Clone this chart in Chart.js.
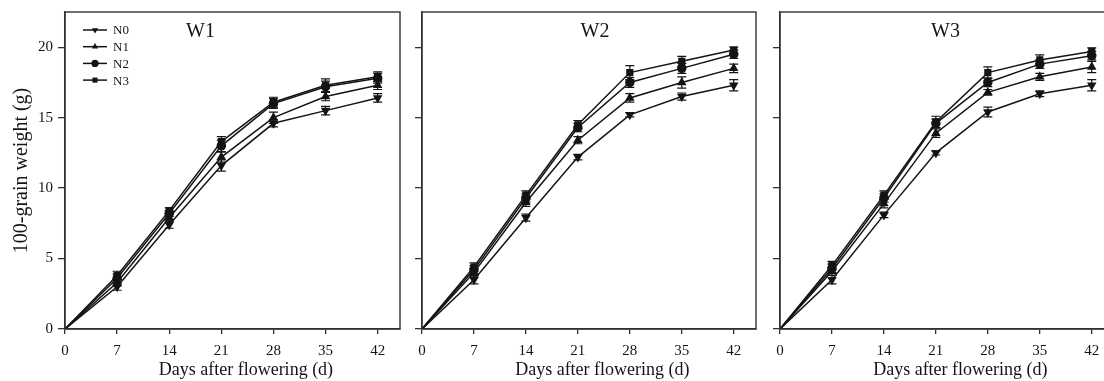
<!DOCTYPE html>
<html>
<head>
<meta charset="utf-8">
<script src="https://cdn.jsdelivr.net/npm/chart.js@4.4.0/dist/chart.umd.min.js"></script>
<style>
html, body { margin: 0; padding: 0; background: #fff; overflow: hidden; }
body { position: relative; width: 1104px; height: 381px; }
.panel { position: absolute; top: 0; height: 381px; }
</style>
</head>
<body>
<div class="panel" style="left:0;width:410px"><canvas id="c1"></canvas></div>
<div class="panel" style="left:410px;width:356px"><canvas id="c2"></canvas></div>
<div class="panel" style="left:766px;width:356px"><canvas id="c3"></canvas></div>
<script>
const days = [0, 7, 14, 21, 28, 35, 42];
const xTicks = [0, 7, 14, 21, 28, 35, 42];
const yTicks = [0, 5, 10, 15, 20];
const seriesNames = ['N0', 'N1', 'N2', 'N3'];

// W1
const w1N0 = [0, 3.0, 7.4, 11.6, 14.6, 15.5, 16.4];
const w1N1 = [0, 3.3, 7.9, 12.2, 15.0, 16.5, 17.3];
const w1N2 = [0, 3.6, 8.2, 13.0, 16.0, 17.2, 17.8];
const w1N3 = [0, 3.8, 8.4, 13.3, 16.1, 17.3, 17.9];
const w1N0Err = [0, 0.25, 0.25, 0.4, 0.25, 0.3, 0.3];
const w1N1Err = [0, 0.25, 0.25, 0.35, 0.4, 0.3, 0.3];
const w1N2Err = [0, 0.3, 0.2, 0.4, 0.35, 0.4, 0.35];
const w1N3Err = [0, 0.3, 0.2, 0.35, 0.35, 0.45, 0.35];

// W2
const w2N0 = [0, 3.5, 7.9, 12.2, 15.2, 16.5, 17.3];
const w2N1 = [0, 4.0, 9.0, 13.4, 16.4, 17.5, 18.5];
const w2N2 = [0, 4.2, 9.3, 14.3, 17.5, 18.5, 19.5];
const w2N3 = [0, 4.4, 9.5, 14.5, 18.2, 19.0, 19.8];
const w2N0Err = [0, 0.3, 0.25, 0.2, 0.15, 0.25, 0.4];
const w2N1Err = [0, 0.3, 0.3, 0.25, 0.3, 0.4, 0.3];
const w2N2Err = [0, 0.3, 0.3, 0.3, 0.35, 0.35, 0.3];
const w2N3Err = [0, 0.3, 0.3, 0.3, 0.5, 0.35, 0.2];

// W3
const w3N0 = [0, 3.5, 8.1, 12.5, 15.4, 16.7, 17.3];
const w3N1 = [0, 4.1, 8.9, 13.9, 16.8, 17.9, 18.6];
const w3N2 = [0, 4.3, 9.3, 14.6, 17.5, 18.8, 19.4];
const w3N3 = [0, 4.5, 9.5, 14.7, 18.2, 19.1, 19.7];
const w3N0Err = [0, 0.3, 0.2, 0.15, 0.35, 0.2, 0.4];
const w3N1Err = [0, 0.3, 0.3, 0.3, 0.2, 0.25, 0.4];
const w3N2Err = [0, 0.3, 0.3, 0.3, 0.3, 0.3, 0.3];
const w3N3Err = [0, 0.3, 0.3, 0.4, 0.4, 0.35, 0.25];

const pointStyles = ['triangle', 'triangle', 'circle', 'rect'];
const rotations = [180, 0, 0, 0];
const ink = '#141414';
const serif = "'Liberation Serif', 'Times New Roman', serif";

function makeSets(vals, errs) {
    return vals.map((v, i) => ({
        label: seriesNames[i],
        data: v.map((y, j) => ({ x: days[j], y: y })),
        errors: errs[i],
        borderColor: ink,
        backgroundColor: ink,
        borderWidth: 1.5,
        pointStyle: pointStyles[i],
        rotation: rotations[i],
        pointRadius: [0, 4, 4, 4, 4, 4, 4],
        tension: 0
    }));
}

const decor = {
    id: 'decor',
    afterDatasetsDraw(chart, args, opts) {
        const ctx = chart.ctx;
        const a = chart.chartArea;
        const x = chart.scales.x, y = chart.scales.y;
        ctx.save();
        ctx.strokeStyle = ink;
        ctx.lineWidth = 1.2;
        chart.data.datasets.forEach(ds => {
            ds.errors.forEach((e, j) => {
                if (!e) return;
                const px = x.getPixelForValue(days[j]);
                const v = ds.data[j].y;
                const y1 = y.getPixelForValue(v - e), y2 = y.getPixelForValue(v + e);
                ctx.beginPath();
                ctx.moveTo(px, y1); ctx.lineTo(px, y2);
                ctx.moveTo(px - 4.5, y1); ctx.lineTo(px + 4.5, y1);
                ctx.moveTo(px - 4.5, y2); ctx.lineTo(px + 4.5, y2);
                ctx.stroke();
            });
        });
        // frame
        ctx.strokeStyle = '#333';
        ctx.lineWidth = 1.4;
        ctx.strokeRect(a.left, a.top, a.right - a.left, a.bottom - a.top);
        // panel label
        ctx.fillStyle = ink;
        ctx.font = '20px ' + serif;
        ctx.textAlign = 'center';
        ctx.textBaseline = 'middle';
        ctx.fillText(opts.label, x.getPixelForValue(opts.labelAt), a.top + 20);
        // x title
        ctx.font = '18px ' + serif;
        ctx.fillText('Days after flowering (d)', x.getPixelForValue(24.3), chart.height - 11);
        // legend
        if (opts.legend) {
            ctx.font = '13px ' + serif;
            ctx.textAlign = 'left';
            chart.data.datasets.forEach((ds, i) => {
                const ly = a.top + 18 + i * 16.7;
                const lx = a.left + 18;
                ctx.strokeStyle = ink;
                ctx.lineWidth = 1.5;
                ctx.beginPath();
                ctx.moveTo(lx, ly); ctx.lineTo(lx + 24, ly);
                ctx.stroke();
                ctx.fillStyle = ink;
                Chart.helpers.drawPoint(ctx, { pointStyle: ds.pointStyle, rotation: ds.rotation, radius: 3.6 }, lx + 12, ly);
                ctx.fillText(ds.label, lx + 30, ly + 1);
            });
        }
        ctx.restore();
    }
};

function makeChart(id, sets, yWidth, padRight, opts, showY) {
    new Chart(document.getElementById(id), {
        type: 'line',
        data: { datasets: sets },
        plugins: [decor],
        options: {
            responsive: true,
            maintainAspectRatio: false,
            animation: false,
            layout: { padding: { left: 0, top: 12, right: padRight, bottom: 0 } },
            plugins: {
                legend: { display: false },
                tooltip: { enabled: false },
                decor: opts
            },
            scales: {
                x: {
                    type: 'linear',
                    min: 0,
                    max: 45,
                    afterBuildTicks: s => { s.ticks = xTicks.map(v => ({ value: v })); },
                    afterFit: s => { s.height = 52; s.paddingLeft = 0; s.paddingRight = 0; },
                    grid: { drawOnChartArea: false, drawTicks: true, tickLength: 5, color: '#333', lineWidth: 1.3 },
                    border: { display: true, color: '#333', width: 1.4 },
                    ticks: { color: ink, font: { family: serif, size: 15 }, padding: 8, maxRotation: 0 }
                },
                y: {
                    min: 0,
                    max: 22.5,
                    afterBuildTicks: s => { s.ticks = yTicks.map(v => ({ value: v })); },
                    afterFit: s => { s.width = yWidth; s.paddingTop = 0; s.paddingBottom = 0; },
                    grid: { drawOnChartArea: false, drawTicks: true, tickLength: 7, color: '#333', lineWidth: 1.3 },
                    border: { display: true, color: '#333', width: 1.4 },
                    ticks: { display: showY, color: ink, font: { family: serif, size: 15 }, padding: 5 },
                    title: {
                        display: showY,
                        text: '100-grain weight (g)',
                        color: ink,
                        font: { family: serif, size: 20 },
                        padding: { top: 10, bottom: 0 }
                    }
                }
            }
        }
    });
}

makeChart('c1', makeSets([w1N0, w1N1, w1N2, w1N3], [w1N0Err, w1N1Err, w1N2Err, w1N3Err]), 65, 10,
    { label: 'W1', labelAt: 18.2, legend: true }, true);
makeChart('c2', makeSets([w2N0, w2N1, w2N2, w2N3], [w2N0Err, w2N1Err, w2N2Err, w2N3Err]), 12, 10,
    { label: 'W2', labelAt: 23.3, legend: false }, false);
makeChart('c3', makeSets([w3N0, w3N1, w3N2, w3N3], [w3N0Err, w3N1Err, w3N2Err, w3N3Err]), 14, 8,
    { label: 'W3', labelAt: 22.3, legend: false }, false);
</script>
</body>
</html>
